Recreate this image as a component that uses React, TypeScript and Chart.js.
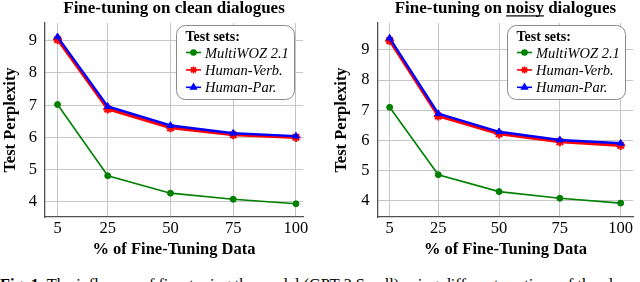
import React, { useEffect, useRef } from "react";
import { Chart, registerables } from "chart.js";
import { drawPoint } from "chart.js/helpers";

Chart.register(...registerables);

// ---------- data ----------
const xValues = [5, 25, 50, 75, 100];
const xTickValues = [5, 25, 50, 75, 100];
const yTickValues = [4, 5, 6, 7, 8, 9];
const seriesLabels = ["MultiWOZ 2.1", "Human-Verb.", "Human-Par."];
const legendTitle = "Test sets:";

const cleanMultiWOZ = [7.02, 4.81, 4.27, 4.08, 3.94];
const cleanHumanVerb = [9.04, 6.88, 6.3, 6.08, 6.0];
const cleanHumanPar = [9.12, 6.96, 6.37, 6.13, 6.04];

const noisyMultiWOZ = [7.1, 4.87, 4.31, 4.09, 3.93];
const noisyHumanVerb = [9.31, 6.81, 6.22, 5.96, 5.84];
const noisyHumanPar = [9.39, 6.89, 6.29, 6.02, 5.91];

const chartTitles = ["Fine-tuning on clean dialogues", "Fine-tuning on noisy dialogues"];
const underlinedWords = ["", "noisy"];
const xAxisTitle = "% of Fine-Tuning Data";
const yAxisTitle = "Test Perplexity";
const xAxisMin = [0, 0];
const xAxisMax = [102.8, 105.2];
const yAxisMin = [3.53, 3.47];
const yAxisMax = [9.55, 9.89];

const FONT = '"Liberation Serif", "Times New Roman", serif';

const seriesStyles = [
  { color: "rgb(0,128,0)", width: 1.6, pointStyle: "circle", radius: 3, order: 0, legendRadius: 2.5 },
  { color: "rgb(255,0,0)", width: 3, pointStyle: "star", radius: 4.5, order: 2, legendRadius: 3.5 },
  { color: "rgb(0,0,255)", width: 2.4, pointStyle: "triangle", radius: 3.8, order: 1, legendRadius: 3.2 },
];

const boxLegendPlugin = {
  id: "boxLegend",
  afterDraw(chart: any, _args: any, opts: any) {
    const { ctx, chartArea } = chart;
    const x = chartArea.left + opts.offsetX;
    const y = chartArea.top + opts.offsetY;
    const w = opts.width;
    const h = opts.height;
    ctx.save();
    ctx.beginPath();
    ctx.roundRect(x + 0.5, y + 0.5, w, h, 9);
    ctx.fillStyle = "#ffffff";
    ctx.fill();
    ctx.strokeStyle = "#8a8a8a";
    ctx.lineWidth = 1;
    ctx.stroke();

    ctx.fillStyle = "#000";
    ctx.textAlign = "left";
    ctx.textBaseline = "alphabetic";
    ctx.font = `bold 14px ${FONT}`;
    ctx.fillText(opts.title, x + 9.5, y + 15.5);

    chart.data.datasets.forEach((ds: any, i: number) => {
      const cy = y + 27.5 + i * 17.4;
      const st = seriesStyles[i];
      ctx.strokeStyle = st.color;
      ctx.fillStyle = st.color;
      ctx.lineWidth = 1.6;
      ctx.beginPath();
      ctx.moveTo(x + 10, cy);
      ctx.lineTo(x + 25, cy);
      ctx.stroke();
      drawPoint(ctx, { pointStyle: st.pointStyle, rotation: 0, radius: st.legendRadius, borderWidth: i === 1 ? 1.8 : 1 } as any, x + 17.5, cy);
      ctx.fillStyle = "#000";
      ctx.font = `italic 14.5px ${FONT}`;
      ctx.fillText(ds.label, x + 29, cy + 5);
    });
    ctx.restore();
  },
};

const underlinePlugin = {
  id: "titleUnderline",
  afterDraw(chart: any, _args: any, opts: any) {
    if (!opts.word) return;
    const tb = chart.titleBlock;
    if (!tb) return;
    const full: string = chart.options.plugins.title.text;
    const { ctx } = chart;
    ctx.save();
    ctx.font = `bold 17px ${FONT}`;
    const W = ctx.measureText(full).width;
    const idx = full.indexOf(opts.word);
    const pre = ctx.measureText(full.slice(0, idx)).width;
    const ww = ctx.measureText(opts.word).width;
    const cx = (tb.left + tb.right) / 2;
    const x0 = cx - W / 2 + pre;
    ctx.fillStyle = "#000";
    ctx.fillRect(x0, tb.top + 15.3, ww, 1.2);
    ctx.restore();
  },
};

function PerplexityChart({ idx }: { idx: number }) {
  const ref = useRef<HTMLCanvasElement | null>(null);
  useEffect(() => {
    if (!ref.current) return;
    const series =
      idx === 0
        ? [cleanMultiWOZ, cleanHumanVerb, cleanHumanPar]
        : [noisyMultiWOZ, noisyHumanVerb, noisyHumanPar];
    const yScaleWidth = idx === 0 ? 45 : 57.5;
    const yTitlePad = idx === 0 ? 2.25 : 13.75;
    const chart = new Chart(ref.current, {
      type: "line",
      data: {
        datasets: series.map((vals, i) => ({
          label: seriesLabels[i],
          data: vals.map((v, j) => ({ x: xValues[j], y: v })),
          borderColor: seriesStyles[i].color,
          backgroundColor: seriesStyles[i].color,
          pointBackgroundColor: seriesStyles[i].color,
          pointBorderColor: seriesStyles[i].color,
          borderWidth: seriesStyles[i].width,
          pointStyle: seriesStyles[i].pointStyle as any,
          pointRadius: seriesStyles[i].radius,
          pointBorderWidth: i === 1 ? 2.2 : 1,
          tension: 0,
          order: seriesStyles[i].order,
          fill: false,
        })),
      },
      options: {
        animation: false,
        responsive: false,
        maintainAspectRatio: false,
        devicePixelRatio: 1,
        layout: { padding: { left: 0, right: idx === 0 ? 17 : 0, top: 0, bottom: 0 } },
        plugins: {
          legend: { display: false },
          tooltip: { enabled: false },
          title: {
            display: true,
            text: chartTitles[idx],
            fullSize: false,
            color: "#000",
            font: { family: FONT, size: 17, weight: "bold", lineHeight: 1 },
            padding: { top: 0, bottom: 6 },
          },
          boxLegend: {
            offsetX: idx === 0 ? 131 : 129.5,
            offsetY: 2,
            width: 118,
            height: 74,
            title: legendTitle,
          },
          titleUnderline: { word: underlinedWords[idx] },
        } as any,
        scales: {
          x: {
            type: "linear",
            min: xAxisMin[idx],
            max: xAxisMax[idx],
            afterBuildTicks: (s: any) => {
              s.ticks = xTickValues.map((v) => ({ value: v }));
            },
            afterFit: (s: any) => {
              s.height = 45;
            },
            grid: { color: "#c6c6c6", lineWidth: 1, drawTicks: false },
            border: { display: true, color: "#505050", width: 1.3 },
            ticks: {
              color: "#000",
              padding: 3.75,
              font: { family: FONT, size: 16.5, lineHeight: 1 },
              callback: (v: any) => String(v),
            },
            title: {
              display: true,
              text: xAxisTitle,
              color: "#000",
              font: { family: FONT, size: 16.5, weight: "bold", lineHeight: 1 },
              padding: { top: 0, bottom: 4.25 },
            },
          },
          y: {
            type: "linear",
            min: yAxisMin[idx],
            max: yAxisMax[idx],
            afterBuildTicks: (s: any) => {
              s.ticks = yTickValues.map((v) => ({ value: v }));
            },
            afterFit: (s: any) => {
              s.width = yScaleWidth;
            },
            grid: { color: "#c6c6c6", lineWidth: 1, drawTicks: false },
            border: { display: true, color: "#505050", width: 1.3 },
            ticks: {
              color: "#000",
              padding: 8,
              font: { family: FONT, size: 16.5, lineHeight: 1 },
              callback: (v: any) => String(v),
            },
            title: {
              display: true,
              text: yAxisTitle,
              color: "#000",
              font: { family: FONT, size: 16.5, weight: "bold", lineHeight: 1 },
              padding: { top: yTitlePad, bottom: 0 },
            },
          },
        },
      },
      plugins: [boxLegendPlugin, underlinePlugin],
    });
    return () => chart.destroy();
  }, [idx]);
  return (
    <canvas
      ref={ref}
      width={320}
      height={262}
      style={{ position: "absolute", left: idx === 0 ? 0 : 320, top: 0, width: 320, height: 262 }}
    />
  );
}

export default function App() {
  return (
    <div
      style={{
        position: "absolute",
        left: 0,
        top: 0,
        width: 640,
        height: 282,
        overflow: "hidden",
        background: "#fff",
      }}
    >
      <PerplexityChart idx={0} />
      <PerplexityChart idx={1} />
      <div
        style={{
          position: "absolute",
          left: 0,
          top: 277,
          whiteSpace: "nowrap",
          fontFamily: FONT,
          fontSize: 16.3,
          lineHeight: "16px",
          color: "#000",
        }}
      >
        <b>Fig. 1.</b> The influence of fine-tuning the model (GPT-2 Small) using different portions of the clean
      </div>
    </div>
  );
}
